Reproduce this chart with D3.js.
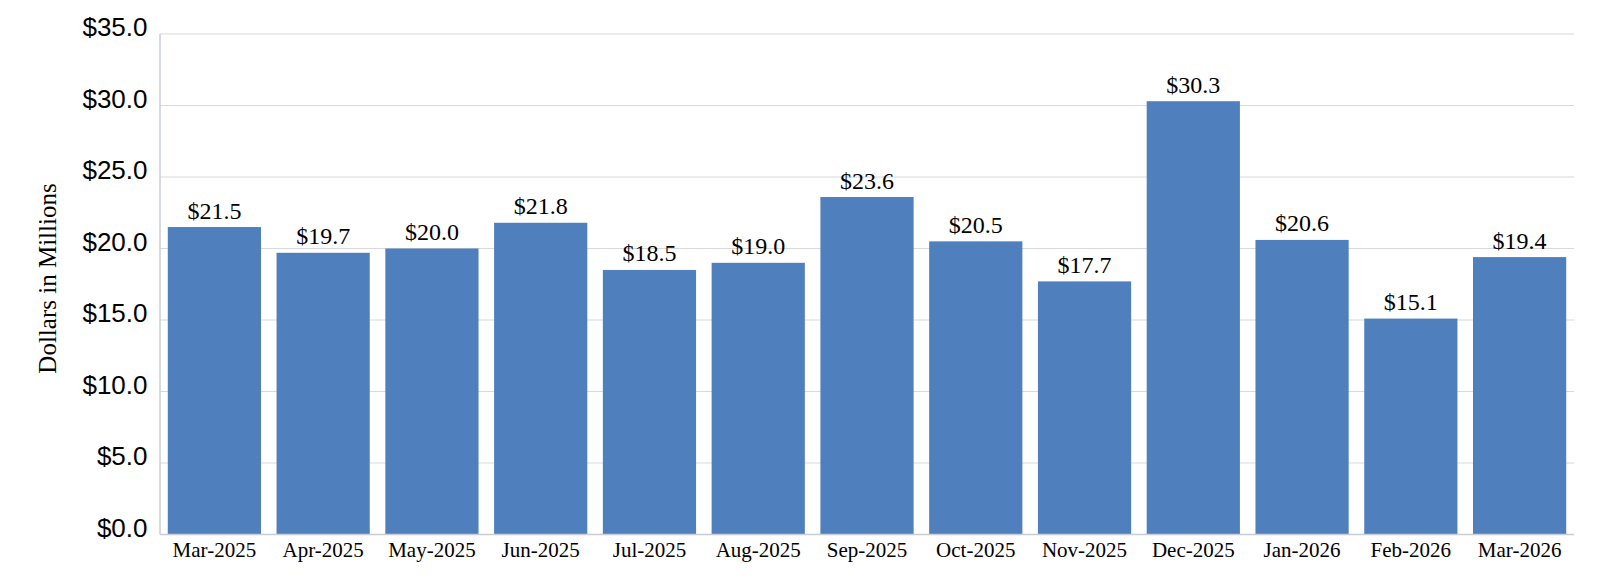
<!DOCTYPE html>
<html>
<head>
<meta charset="utf-8">
<script src="https://cdn.jsdelivr.net/npm/d3@7"></script>
<style>
  html, body { margin: 0; padding: 0; background: #ffffff; }
  svg { display: block; }
</style>
</head>
<body>
<svg id="chart" width="1600" height="581"></svg>
<script>
const categories = ["Mar-2025","Apr-2025","May-2025","Jun-2025","Jul-2025","Aug-2025","Sep-2025","Oct-2025","Nov-2025","Dec-2025","Jan-2026","Feb-2026","Mar-2026"];
const values = [21.5, 19.7, 20.0, 21.8, 18.5, 19.0, 23.6, 20.5, 17.7, 30.3, 20.6, 15.1, 19.4];
const yTicks = [0, 5, 10, 15, 20, 25, 30, 35];
const yAxisTitle = "Dollars in Millions";

const svg = d3.select("#chart");
const margin = { left: 160, right: 26, top: 34, bottom: 46.5 };
const W = 1600, H = 581;

const x = d3.scaleBand()
  .domain(categories)
  .range([margin.left, W - margin.right])
  .paddingInner(0.143)
  .paddingOuter(0.0715);

const y = d3.scaleLinear()
  .domain([0, 35])
  .range([H - margin.bottom, margin.top]);

// gridlines
svg.append("g")
  .selectAll("line")
  .data(yTicks.filter(d => d > 0))
  .join("line")
  .attr("x1", margin.left)
  .attr("x2", W - margin.right)
  .attr("y1", d => y(d))
  .attr("y2", d => y(d))
  .attr("stroke", "#d9d9d9")
  .attr("stroke-width", 1.2);

// y axis tick labels
svg.append("g")
  .selectAll("text")
  .data(yTicks)
  .join("text")
  .attr("x", 147.5)
  .attr("y", d => y(d) + 2)
  .attr("text-anchor", "end")
  .attr("font-family", "Liberation Sans, Arial, sans-serif")
  .attr("font-size", 26)
  .attr("fill", "#000")
  .text(d => "$" + d.toFixed(1));

// bars
svg.append("g")
  .selectAll("rect")
  .data(values)
  .join("rect")
  .attr("x", (d, i) => x(categories[i]))
  .attr("width", x.bandwidth())
  .attr("y", d => y(d))
  .attr("height", d => y(0) - y(d))
  .attr("fill", "#4f80bd");

// axis lines
svg.append("line")
  .attr("x1", margin.left).attr("x2", margin.left)
  .attr("y1", margin.top).attr("y2", y(0))
  .attr("stroke", "#c8ccd4").attr("stroke-width", 1.5);
svg.append("line")
  .attr("x1", margin.left).attr("x2", W - margin.right)
  .attr("y1", y(0)).attr("y2", y(0))
  .attr("stroke", "#c8ccd4").attr("stroke-width", 1.5);

// value labels
svg.append("g")
  .selectAll("text")
  .data(values)
  .join("text")
  .attr("x", (d, i) => x(categories[i]) + x.bandwidth() / 2)
  .attr("y", d => y(d) - 8.5)
  .attr("text-anchor", "middle")
  .attr("font-family", "Liberation Serif, Times New Roman, serif")
  .attr("font-size", 24)
  .attr("fill", "#000")
  .text(d => "$" + d.toFixed(1));

// x labels
svg.append("g")
  .selectAll("text")
  .data(categories)
  .join("text")
  .attr("x", d => x(d) + x.bandwidth() / 2)
  .attr("y", 556.5)
  .attr("text-anchor", "middle")
  .attr("font-family", "Liberation Serif, Times New Roman, serif")
  .attr("font-size", 21)
  .attr("fill", "#000")
  .text(d => d);

// y axis title
svg.append("text")
  .attr("transform", "translate(56,278.5) rotate(-90)")
  .attr("text-anchor", "middle")
  .attr("font-family", "Liberation Serif, Times New Roman, serif")
  .attr("font-size", 25)
  .attr("fill", "#000")
  .text(yAxisTitle);
</script>
</body>
</html>
